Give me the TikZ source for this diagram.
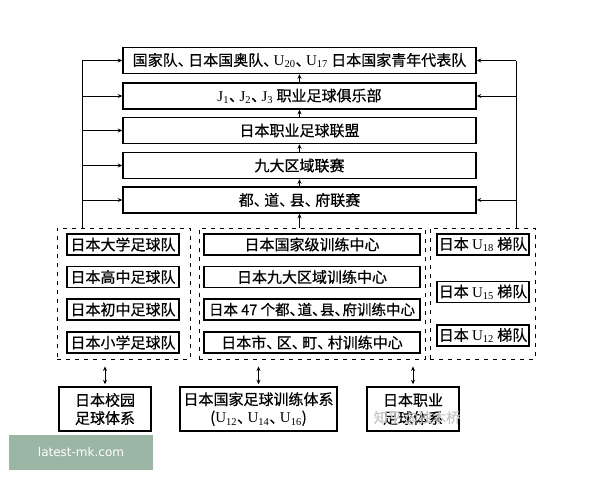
\documentclass[tikz,border=0pt]{standalone}
\usepackage{fontspec}
\setmainfont{Noto Sans CJK SC}[FakeBold=0.6]
\newfontfamily\tnrfont{Liberation Serif}
\newfontfamily\wmfont{DejaVu Sans}
\usetikzlibrary{arrows.meta}
\newcommand{\dn}{、\kern-0.3em}
\newcommand{\tdn}{、\kern-0.45em}
\newcommand{\myU}[1]{{\tnrfont U\textsubscript{#1}}}
\newcommand{\myJ}[1]{{\tnrfont J\textsubscript{#1}}}
\tikzset{
  box/.style={draw, line width=1.5pt, inner sep=0pt, font=\fontsize{15}{18}\selectfont},
  topbox/.style={box, minimum width=353pt, minimum height=26pt},
  sbox/.style={box, minimum height=21pt},
  grp/.style={draw, line width=0.9pt, dash pattern=on 4pt off 5pt, inner sep=0pt},
  bbox/.style={box, align=center, minimum height=44pt},
  arr/.style={-{Stealth[length=4.5pt,width=4pt]}, line width=0.9pt},
  darr/.style={{Stealth[length=4.5pt,width=4pt]}-{Stealth[length=4.5pt,width=4pt]}, line width=0.9pt}
}
\begin{document}
\begin{tikzpicture}[x=1pt,y=-1pt]
\useasboundingbox (0,0) rectangle (600,480);
% top boxes
\node[topbox] (b1) at (299.5,60.5) {国家队\dn 日本国奥队\dn\myU{20}\dn\myU{17} 日本国家青年代表队};
\node[topbox] (b2) at (299.5,96) {\myJ{1}\dn\myJ{2}\dn\myJ{3} 职业足球俱乐部};
\node[topbox] (b3) at (299.5,130.5) {日本职业足球联盟};
\node[topbox] (b4) at (299.5,165.5) {九大区域联赛};
\node[topbox] (b5) at (299.5,200) {都\dn 道\dn 县\dn 府联赛};
% groups
\node[grp, minimum width=133pt, minimum height=131pt] (gL) at (123.5,293.5) {};
\node[grp, minimum width=226pt, minimum height=131pt] (gM) at (312,293.5) {};
\node[grp, minimum width=105pt, minimum height=131pt] (gR) at (482.5,293.5) {};
% left inner
\node[sbox, minimum width=112pt] (l1) at (123,244.5) {日本大学足球队};
\node[sbox, minimum width=112pt] (l2) at (123,277) {日本高中足球队};
\node[sbox, minimum width=112pt] (l3) at (123,309.5) {日本初中足球队};
\node[sbox, minimum width=112pt] (l4) at (123,342.5) {日本小学足球队};
% middle inner
\node[sbox, minimum width=216pt] (m1) at (312,244.5) {日本国家级训练中心};
\node[sbox, minimum width=216pt] (m2) at (312,277) {日本九大区域训练中心};
\node[sbox, minimum width=216pt, font=\fontsize{14.5}{17}\selectfont] (m3) at (312,309.5) {日本 47 个都\tdn 道\tdn 县\tdn 府训练中心};
\node[sbox, minimum width=216pt] (m4) at (312,342.5) {日本市\dn 区\dn 町\dn 村训练中心};
% right inner
\node[sbox, minimum width=92pt] (r1) at (483,244.5) {日本 \myU{18} 梯队};
\node[sbox, minimum width=92pt] (r2) at (483,292) {日本 \myU{15} 梯队};
\node[sbox, minimum width=92pt] (r3) at (483,335.5) {日本 \myU{12} 梯队};
% bottom boxes
\node[bbox, minimum width=92pt] (bL) at (105,409) {日本校园\\足球体系};
\node[bbox, minimum width=157pt] (bM) at (258.5,409) {日本国家足球训练体系\\(\myU{12}\dn\myU{14}\dn\myU{16})};
\node[bbox, minimum width=92pt] (bR) at (413,409) {日本职业\\足球体系};
% side lines
\coordinate (lt) at (82,60.5);
\coordinate (rt) at (516,60.5);
\draw[line width=0.9pt] (lt |- gL.north) -- (lt);
\draw[line width=0.9pt] (rt |- gR.north) -- (rt);
\draw[arr] (lt) -- (b1.west);
\draw[arr] (lt |- b2.west) -- (b2.west);
\draw[arr] (lt |- b3.west) -- (b3.west);
\draw[arr] (lt |- b4.west) -- (b4.west);
\draw[arr] (lt |- b5.west) -- (b5.west);
\draw[arr] (rt) -- (b1.east);
\draw[arr] (rt |- b2.east) -- (b2.east);
\draw[arr] (rt |- b5.east) -- (b5.east);
% vertical arrows
\draw[arr] (b2.north) -- (b1.south);
\draw[arr] (b3.north) -- (b2.south);
\draw[arr] (b4.north) -- (b3.south);
\draw[arr] (b5.north) -- (b4.south);
\draw[arr] (b5.south |- gM.north) -- (b5.south);
% double arrows
\draw[darr, shorten <=7pt, shorten >=2pt] (bL.north |- gL.south) -- (bL.north);
\draw[darr, shorten <=7pt, shorten >=2pt] (bM.north |- gM.south) -- (bM.north);
\draw[darr, shorten <=7pt, shorten >=2pt] (bR.north |- gR.south) -- (bR.north);
% watermarks
\node[text=black!22, font=\fontsize{14}{16}\selectfont] (wz) at (417,418) {知乎 @独木桥};
\node[fill={rgb,255:red,155;green,182;blue,164}, minimum width=144pt, minimum height=35pt, inner sep=0pt, text=white, font=\wmfont\fontsize{12}{14}\selectfont] (wm) at (81,452.5) {latest-mk.com};
\end{tikzpicture}
\end{document}
